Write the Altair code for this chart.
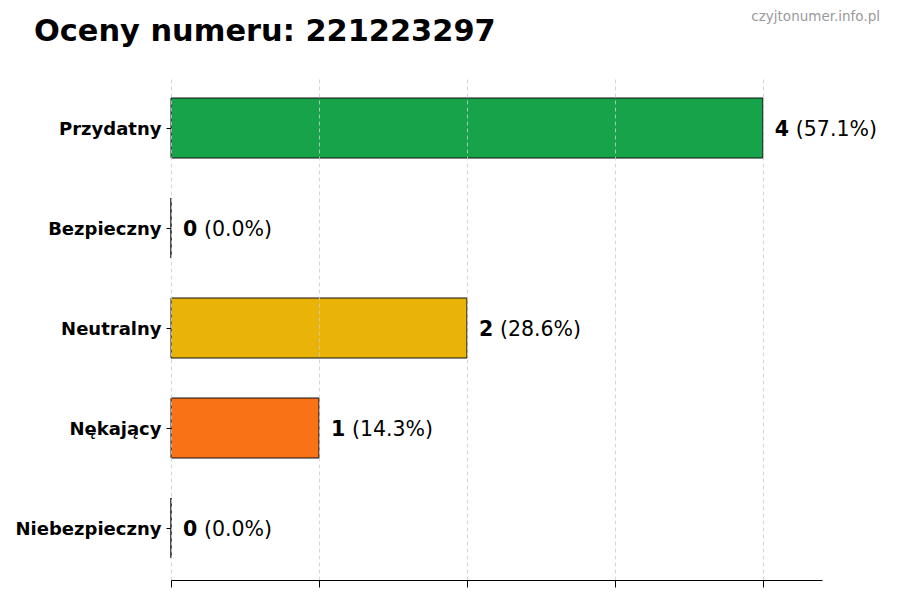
import altair as alt
import pandas as pd

categories = ["Przydatny", "Bezpieczny", "Neutralny", "Nękający", "Niebezpieczny"]
counts = [4, 0, 2, 1, 0]
colors = ["#16a34a", "#2563eb", "#eab308", "#f97316", "#dc2626"]
x_ticks = [0, 1, 2, 3, 4]
title_text = "Oceny numeru: 221223297"
watermark = "czyjtonumer.info.pl"

total = sum(counts)
df = pd.DataFrame({
    "cat": categories,
    "count": counts,
    "num": [str(c) for c in counts],
    "pct": [f"({c / total * 100:.1f}%)" for c in counts],
})

FONT = "DejaVu Sans"
W, H = 651, 504

y_enc = alt.Y("cat:N", sort=categories,
              scale=alt.Scale(paddingInner=0.4, paddingOuter=0.22),
              axis=alt.Axis(title=None, domain=False, ticks=True, tickSize=5,
                            tickColor="black", labelFont=FONT, labelFontWeight="bold",
                            labelFontSize=18, labelColor="black", labelPadding=5,
                            labelOffset=1.5))
x_enc = alt.X("count:Q", scale=alt.Scale(domain=[0, 4.4], nice=False, zero=True),
              axis=alt.Axis(title=None, values=x_ticks, labels=False, grid=True,
                            gridDash=[4, 3], gridColor="#cccccc", gridOpacity=0.8,
                            domainColor="black", domainWidth=1.2,
                            tickColor="black", tickSize=7, zindex=1))

base = alt.Chart(df)

bars = base.mark_bar(stroke="#111111", strokeWidth=1).encode(
    y=y_enc,
    x=x_enc,
    color=alt.Color("cat:N", scale=alt.Scale(domain=categories, range=colors), legend=None),
)

num_text = base.mark_text(align="left", baseline="middle", dx=12, dy=1.5, font=FONT,
                          fontSize=20.5, fontWeight="bold", color="black").encode(
    y=alt.Y("cat:N", sort=categories), x="count:Q", text="num:N")

pct_text = base.mark_text(align="left", baseline="middle", dx=33, dy=1.5, font=FONT,
                          fontSize=20.5, color="black").encode(
    y=alt.Y("cat:N", sort=categories), x="count:Q", text="pct:N")

wm = alt.Chart(pd.DataFrame({"t": [watermark]})).mark_text(
    align="right", baseline="middle", font=FONT, fontSize=13.5, color="#9a9a9a"
).encode(text="t:N", x=alt.value(709), y=alt.value(-59))

ttl = alt.Chart(pd.DataFrame({"t": [title_text]})).mark_text(
    align="left", baseline="middle", font=FONT, fontSize=30.4, fontWeight="bold",
    color="black"
).encode(text="t:N", x=alt.value(-137), y=alt.value(-44))

chart = alt.layer(bars, num_text, pct_text, wm, ttl).properties(
    width=W, height=H,
    autosize=alt.AutoSizeParams(type="none"),
    padding={"left": 163, "top": 68, "right": 70, "bottom": 12},
).configure(background="white").configure_view(stroke=None)

chart.save("out.html", embed_options={"renderer": "svg", "actions": False})
